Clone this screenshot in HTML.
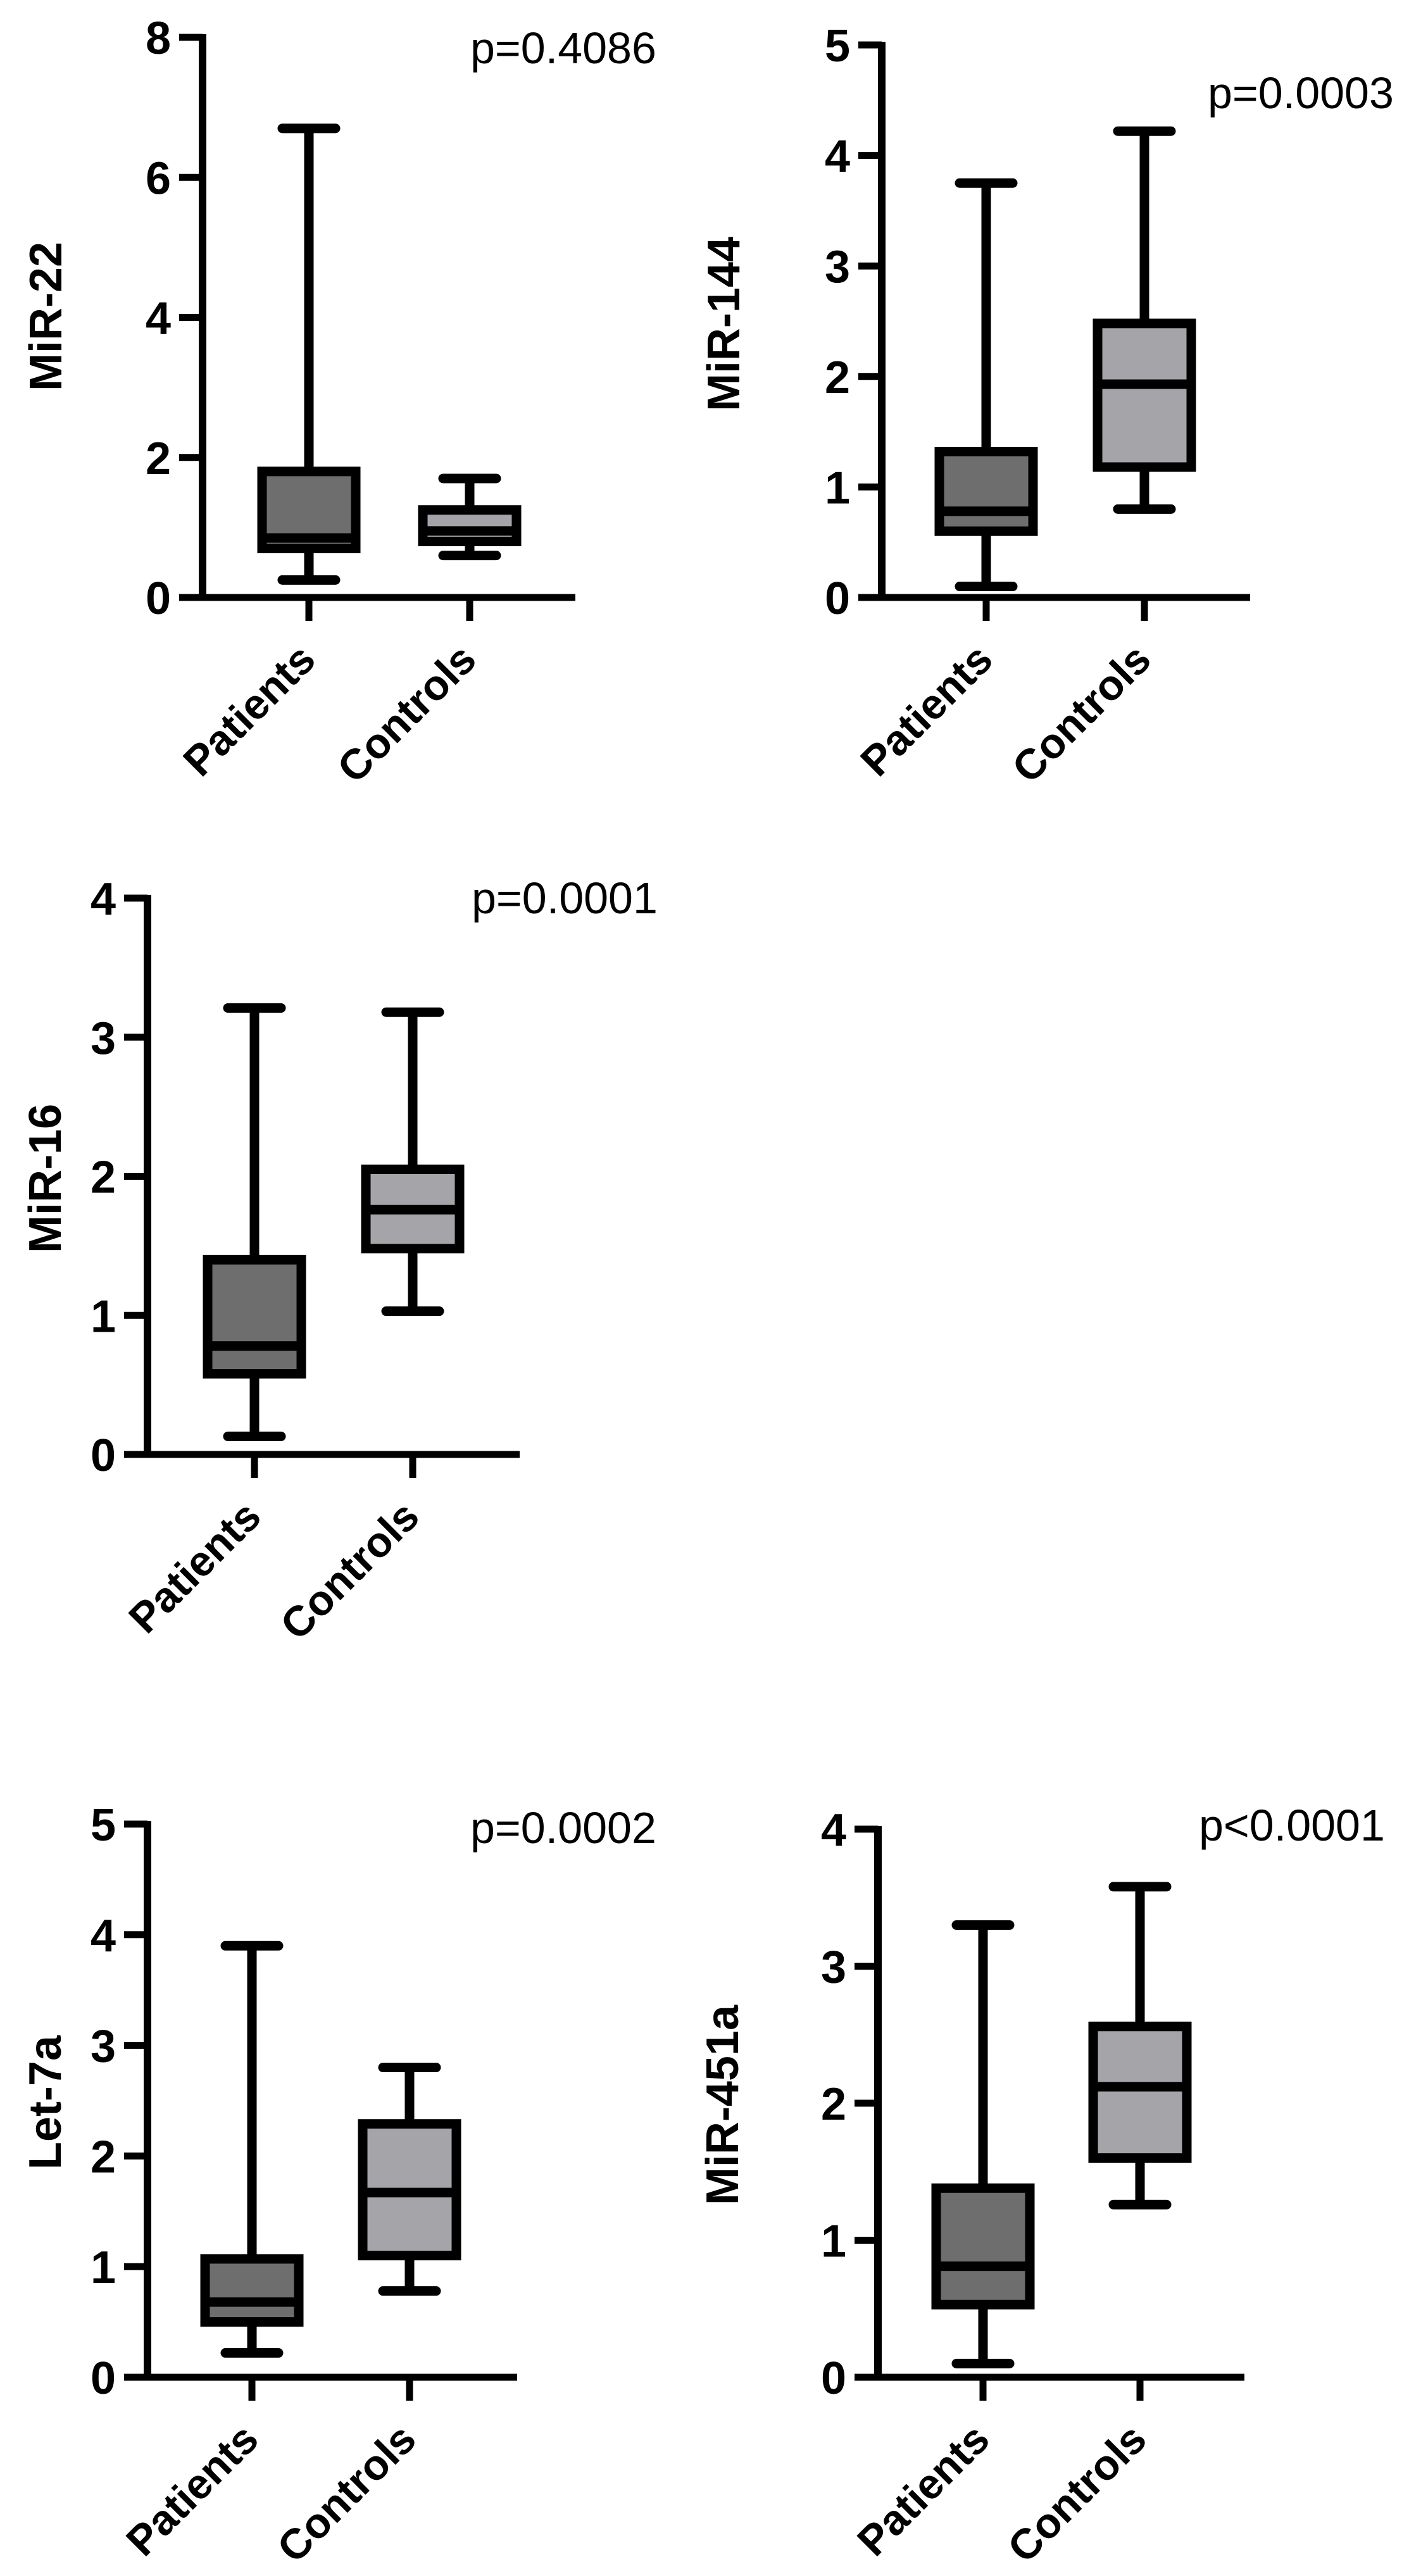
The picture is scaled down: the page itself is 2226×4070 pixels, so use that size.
<!DOCTYPE html>
<html><head><meta charset="utf-8"><style>
html,body{margin:0;padding:0;background:#fff;}
svg{display:block;}
text{font-family:"Liberation Sans",Arial,sans-serif;}
</style></head><body>
<svg id="fig" width="2226" height="4070" viewBox="0 0 2226 4070" xmlns="http://www.w3.org/2000/svg"></svg>
<script>
const groups = ["Patients", "Controls"];
// MiR-22
const mir22Min = [0.25, 0.6];
const mir22Q1 = [0.7, 0.8];
const mir22Med = [0.85, 0.95];
const mir22Q3 = [1.8, 1.25];
const mir22Max = [6.7, 1.7];
const mir22Ticks = [0, 2, 4, 6, 8];
// MiR-144
const mir144Min = [0.1, 0.8];
const mir144Q1 = [0.6, 1.18];
const mir144Med = [0.78, 1.93];
const mir144Q3 = [1.32, 2.48];
const mir144Max = [3.75, 4.22];
const mir144Ticks = [0, 1, 2, 3, 4, 5];
// MiR-16
const mir16Min = [0.13, 1.03];
const mir16Q1 = [0.58, 1.48];
const mir16Med = [0.78, 1.76];
const mir16Q3 = [1.4, 2.05];
const mir16Max = [3.21, 3.18];
const mir16Ticks = [0, 1, 2, 3, 4];
// Let-7a
const let7aMin = [0.22, 0.78];
const let7aQ1 = [0.5, 1.1];
const let7aMed = [0.68, 1.67];
const let7aQ3 = [1.07, 2.29];
const let7aMax = [3.9, 2.8];
const let7aTicks = [0, 1, 2, 3, 4, 5];
// MiR-451a
const mir451aMin = [0.1, 1.26];
const mir451aQ1 = [0.53, 1.6];
const mir451aMed = [0.81, 2.12];
const mir451aQ3 = [1.38, 2.56];
const mir451aMax = [3.3, 3.58];
const mir451aTicks = [0, 1, 2, 3, 4];
const pValues = ["p=0.4086", "p=0.0003", "p=0.0001", "p=0.0002", "p<0.0001"];

const NS = "http://www.w3.org/2000/svg";
const svg = document.getElementById("fig");
function mk(tag, attrs, parent) {
  const e = document.createElementNS(NS, tag);
  for (const k in attrs) e.setAttribute(k, attrs[k]);
  (parent || svg).appendChild(e);
  return e;
}
const fills = ["#6e6e6e", "#a5a4a9"];

function panel(cfg) {
  const g = mk("g", {});
  
  
  const yMax = cfg.ticks[cfg.ticks.length - 1];
  const y = v => cfg.y0 - (v / yMax) * (cfg.y0 - cfg.yTop);
  const xs = [cfg.cx0, cfg.cx1];
  const ya = mk("line", {x1: cfg.ax, y1: y(yMax) - 5, x2: cfg.ax, y2: cfg.y0 + 5, stroke: "#000", "stroke-width": 12}, g);
  
  
  const xa = mk("line", {x1: cfg.xl, y1: cfg.y0, x2: cfg.xr, y2: cfg.y0, stroke: "#000", "stroke-width": 11}, g);
  
  
  cfg.ticks.forEach(t => {
    const ty = y(t);
    const tl = mk("line", {x1: cfg.ax - 37, y1: ty, x2: cfg.ax, y2: ty, stroke: "#000", "stroke-width": 11}, g);
    
    
    const tx = mk("text", {x: cfg.ax - 50, y: ty + 26, "text-anchor": "end", "font-size": 72, "font-weight": "bold"}, g);
    tx.textContent = t;
    
    
  });
  const tt = mk("text", {x: 0, y: 0, "text-anchor": "middle", "font-size": 72, "font-weight": "bold",
    transform: "translate(" + cfg.tx + "," + cfg.ty + ") rotate(-90)"}, g);
  tt.textContent = cfg.title;
  
  
  const pv = mk("text", {x: cfg.px, y: cfg.py, "font-size": 70}, g);
  pv.textContent = cfg.p;
  
  
  groups.forEach((gname, i) => {
    const cx = xs[i];
    const xt = mk("line", {x1: cx, y1: cfg.y0, x2: cx, y2: cfg.y0 + 37, stroke: "#000", "stroke-width": 11}, g);
    
    
    const lab = mk("text", {x: 0, y: 0, "text-anchor": "end", "font-size": 67, "font-weight": "bold",
      transform: "translate(" + (cx + 14) + "," + (cfg.y0 + 102) + ") rotate(-45)"}, g);
    lab.textContent = gname;
    
    
    const bg = mk("g", {}, g);
    
    
    mk("line", {x1: cx, y1: y(cfg.max[i]), x2: cx, y2: y(cfg.q3[i]), stroke: "#000", "stroke-width": 15}, bg);
    mk("line", {x1: cx, y1: y(cfg.q1[i]), x2: cx, y2: y(cfg.min[i]), stroke: "#000", "stroke-width": 15}, bg);
    const c1 = mk("line", {x1: cx - 42, y1: y(cfg.max[i]), x2: cx + 42, y2: y(cfg.max[i]), stroke: "#000", "stroke-width": 15, "stroke-linecap": "round"}, bg);
    
    
    const c2 = mk("line", {x1: cx - 42, y1: y(cfg.min[i]), x2: cx + 42, y2: y(cfg.min[i]), stroke: "#000", "stroke-width": 15, "stroke-linecap": "round"}, bg);
    
    
    const r = mk("rect", {x: cx - 74, y: y(cfg.q3[i]), width: 148, height: y(cfg.q1[i]) - y(cfg.q3[i]), fill: fills[i], stroke: "#000", "stroke-width": 15}, bg);
    
    
    const m = mk("line", {x1: cx - 74, y1: y(cfg.med[i]), x2: cx + 74, y2: y(cfg.med[i]), stroke: "#000", "stroke-width": 15}, bg);
    
    
  });
}

panel({name: "mir-22", title: "MiR-22", p: pValues[0], ticks: mir22Ticks, min: mir22Min, q1: mir22Q1, med: mir22Med, q3: mir22Q3, max: mir22Max,
  ax: 320, yTop: 59, y0: 944, xl: 285, xr: 909, cx0: 488, cx1: 742, tx: 97, ty: 500, px: 743, py: 100});
panel({name: "mir-144", title: "MiR-144", p: pValues[1], ticks: mir144Ticks, min: mir144Min, q1: mir144Q1, med: mir144Med, q3: mir144Q3, max: mir144Max,
  ax: 1393, yTop: 71, y0: 944, xl: 1357, xr: 1975, cx0: 1558, cx1: 1808, tx: 1168, ty: 512, px: 1908, py: 171});
panel({name: "mir-16", title: "MiR-16", p: pValues[2], ticks: mir16Ticks, min: mir16Min, q1: mir16Q1, med: mir16Med, q3: mir16Q3, max: mir16Max,
  ax: 233, yTop: 1419, y0: 2298, xl: 198, xr: 821, cx0: 402, cx1: 652, tx: 96, ty: 1862, px: 745, py: 1443});
panel({name: "let-7a", title: "Let-7a", p: pValues[3], ticks: let7aTicks, min: let7aMin, q1: let7aQ1, med: let7aMed, q3: let7aQ3, max: let7aMax,
  ax: 233, yTop: 2882, y0: 3756, xl: 196, xr: 817, cx0: 398, cx1: 647, tx: 96, ty: 3322, px: 743, py: 2912});
panel({name: "mir-451a", title: "MiR-451a", p: pValues[4], ticks: mir451aTicks, min: mir451aMin, q1: mir451aQ1, med: mir451aMed, q3: mir451aQ3, max: mir451aMax,
  ax: 1387, yTop: 2890, y0: 3756, xl: 1351, xr: 1966, cx0: 1553, cx1: 1801, tx: 1166, ty: 3326, px: 1894, py: 2908});
</script>
</body></html>
